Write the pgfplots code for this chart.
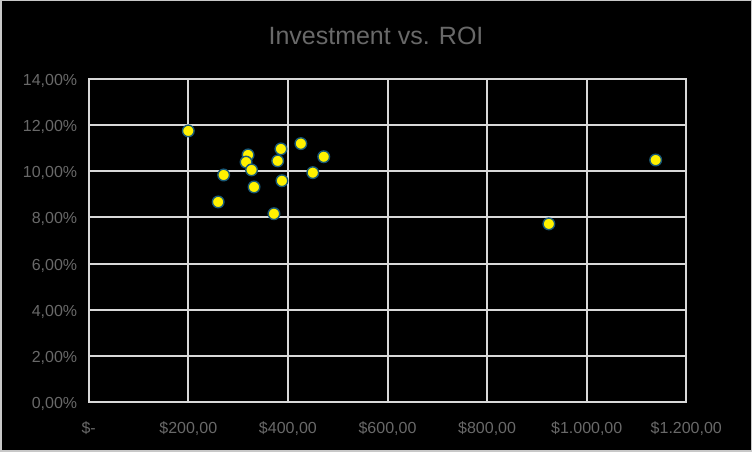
\documentclass[border=0pt]{standalone}
\usepackage{pgfplots}
\pgfplotsset{compat=1.18}
\usepackage{fontspec}
\setmainfont{Liberation Sans}
\definecolor{txt}{RGB}{105,105,105}
\definecolor{grd}{RGB}{217,217,217}
\definecolor{edge}{RGB}{25,90,120}
\definecolor{bord}{RGB}{200,200,200}
\begin{document}
\begin{tikzpicture}[x=1pt,y=1pt]
\fill[black] (0,0) rectangle (752,452);
\draw[bord,line width=1.5pt] (0.75,0.75) rectangle (751.25,451.25);
\node[txt,font=\fontsize{25}{28}\selectfont] at (376,416) {Investment vs. ROI};
\begin{axis}[
  scale only axis,
  at={(88.7pt,50pt)}, anchor=south west,
  width=597.6pt, height=323pt,
  xmin=0, xmax=1200, ymin=0, ymax=14,
  xtick={0,200,400,600,800,1000,1200},
  xticklabels={{\$-},{\$200,00},{\$400,00},{\$600,00},{\$800,00},{\$1.000,00},{\$1.200,00}},
  ytick={0,2,4,6,8,10,12,14},
  yticklabels={{0,00\%},{2,00\%},{4,00\%},{6,00\%},{8,00\%},{10,00\%},{12,00\%},{14,00\%}},
  grid=major,
  major grid style={grd,line width=2pt},
  axis line style={grd,line width=2pt},
  major tick length=0pt,
  tick label style={txt,font=\fontsize{16}{18}\selectfont},
  xticklabel style={yshift=-16pt},
  yticklabel style={xshift=-8pt,yshift=-2pt},
  axis background/.style={fill=black},
  clip=false,
]
\addplot[only marks, mark=*, mark size=5.8pt, mark options={fill=yellow, draw=edge, line width=1.4pt}] coordinates {
(200,11.75) (320,10.71) (316,10.40) (327,10.06) (271,9.84) (332,9.32)
(260,8.67) (372,8.16) (386,10.97) (379.5,10.45) (388,9.59) (426,11.20)
(472,10.63) (450,9.94) (1138.5,10.49) (924,7.72)
};
\end{axis}
\end{tikzpicture}
\end{document}
